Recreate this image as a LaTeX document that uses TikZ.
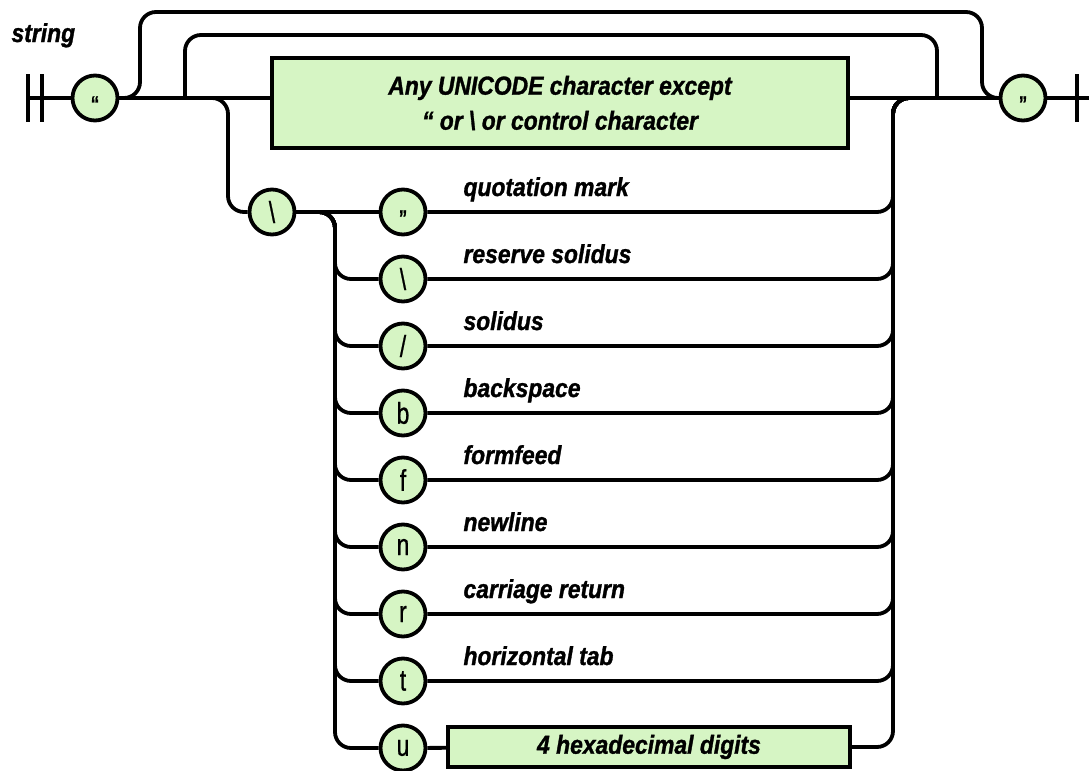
\documentclass[tikz,border=0pt]{standalone}
\usepackage{fontspec}
\setmainfont{Liberation Sans}[FakeStretch=0.88, BoldItalicFeatures={FakeBold=1.2}]
\newfontfamily\keyfont{Liberation Sans}[FakeStretch=0.76, FakeBold=0.8]
\definecolor{railgreen}{RGB}{214,245,196}
\newcommand\qmark[1]{{\fontsize{22}{22}\selectfont\bfseries\smash{\raisebox{-0.61em}{#1}}}}
\newcommand\slashch{/}
\tikzset{
  rail/.style={line width=3.8pt, rounded corners=16pt},
  bar/.style={line width=3.8pt},
  term/.style={draw, circle, line width=3.8pt, fill=railgreen, minimum size=45pt, inner sep=0pt,
    font=\keyfont\fontsize{30}{30}\selectfont},
  nonterm/.style={draw, rectangle, line width=3.8pt, fill=railgreen, inner sep=0pt,
    font=\bfseries\itshape\fontsize{26}{35}\selectfont},
  desc/.style={font=\bfseries\itshape\fontsize{26}{26}\selectfont},
}
\begin{document}
\begin{tikzpicture}[x=1pt, y=-1pt]
    \useasboundingbox (0,0) rectangle (1090,771);
    % Nodes
    \node[desc, anchor=base west] (title) at (8,42) {string};
    \coordinate (start) at (28,98);
    \coordinate (start2) at (42,98);
    \node[term] (oq) at (95,98) {\qmark{“}};
    \node[nonterm, minimum width=576pt, minimum height=90pt, align=center] (any) at (560,103)
        {Any UNICODE character except\\“ or \textbackslash{} or control character};
    \node[term] (cq) at (1023,98) {\qmark{”}};
    \coordinate (stop) at (1077,98);
    \coordinate (exit) at (1089,98);
    \node[term] (bs) at (272,212) {\textbackslash};
    \foreach \ch/\txt [count=\k from 0] in {{\qmark{”}}/quotation mark, \textbackslash/reserve solidus,
        \slashch/solidus, b/backspace, f/formfeed, n/newline, r/carriage return, t/horizontal tab} {
        \node[term] (e\k) at (403,{212+67*\k}) {\ch};
        \node[desc, anchor=base west] (d\k) at (460,{196+67*\k}) {\txt};
    }
    \node[term] (e8) at (403,748) {u};
    \node[nonterm, minimum width=402pt, minimum height=40pt] (hex) at (649,747) {4 hexadecimal digits};

    % Rail corners
    \coordinate (byL) at (140,12);
    \coordinate (byR) at (982,12);
    \coordinate (lbL) at (185,35);
    \coordinate (lbR) at (937,35);
    \coordinate (escL) at (228,98);
    \coordinate (railL) at (335,212);
    \coordinate (railR) at (893,98);

    % Arrows
    \draw[bar] ([yshift=24pt]start) -- ([yshift=-24pt]start);
    \draw[bar] ([yshift=24pt]start2) -- ([yshift=-24pt]start2);
    \draw[rail] (start) -- (oq);
    \draw[rail] (oq) -- (oq.east -| any.west);
    \draw[rail] (oq.east -| any.east) -- (cq);
    \draw[rail] (oq.east) -| (byL) -- (byR) |- (cq.west);
    \draw[rail] (oq.east -| lbL) -- (lbL) -- (lbR) -- (oq.east -| lbR);
    \draw[rail] ([xshift=-22pt]escL) -- (escL) |- (bs);
    \draw[rail] (bs) -- (e0);
    \foreach \k in {1,...,8}
        \draw[rail] ([xshift=-20pt]railL) -- (railL) |- (e\k);
    \foreach \k in {0,...,7}
        \draw[rail] (e\k) -| (railR) -- ([xshift=24pt]railR);
    \draw[rail] (e8) -- (hex);
    \draw[rail] (hex) -| (railR) -- ([xshift=24pt]railR);
    \draw[rail] (cq) -- (exit);
    \draw[bar] ([yshift=24pt]stop) -- ([yshift=-24pt]stop);
\end{tikzpicture}
\end{document}
